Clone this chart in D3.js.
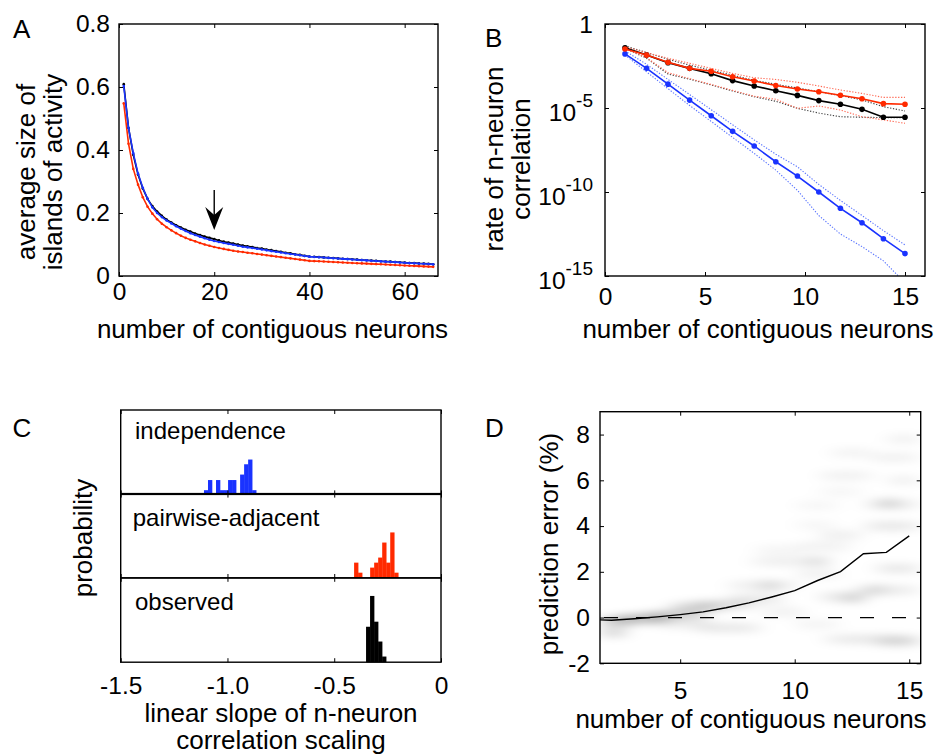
<!DOCTYPE html>
<html><head><meta charset="utf-8">
<script src="https://cdn.jsdelivr.net/npm/d3@7"></script>
<style>
body{margin:0;background:#fff}
svg{display:block;font-family:"Liberation Sans",Arial,Helvetica,sans-serif}
</style></head>
<body><svg id="c" width="940" height="756"></svg>
<script>
// ---------------- DATA ----------------
// Panel A: average size of islands of activity vs number of contiguous neurons
const nA = [1,2,3,4,5,6,7,8,9,10,11,12,13,14,15,16,17,18,19,20,21,22,23,24,25,26,27,28,29,30,31,32,33,34,35,36,37,38,39,40,41,42,43,44,45,46,47,48,49,50,51,52,53,54,55,56,57,58,59,60,61,62,63,64,65,66];
const islandsObserved = [0.609,0.47,0.385,0.322,0.278,0.245,0.222,0.205,0.191,0.179,0.170,0.161,0.154,0.147,0.141,0.135,0.130,0.125,0.121,0.117,0.113,0.109,0.106,0.103,0.100,0.097,0.094,0.092,0.089,0.087,0.084,0.082,0.079,0.077,0.074,0.072,0.069,0.067,0.064,0.062,0.061,0.060,0.059,0.058,0.057,0.056,0.055,0.054,0.053,0.052,0.051,0.050,0.049,0.048,0.047,0.046,0.0455,0.0445,0.0435,0.0425,0.0415,0.041,0.040,0.0395,0.0385,0.0375];
const islandsIndependent = [0.603,0.47,0.39,0.325,0.280,0.245,0.218,0.200,0.187,0.176,0.167,0.158,0.150,0.143,0.136,0.130,0.125,0.120,0.115,0.111,0.108,0.105,0.102,0.099,0.096,0.093,0.091,0.089,0.0865,0.084,0.0815,0.079,0.077,0.0745,0.072,0.070,0.068,0.066,0.0635,0.0615,0.0605,0.0595,0.0585,0.0575,0.0565,0.0555,0.0545,0.0535,0.0525,0.0515,0.0505,0.0495,0.0485,0.0475,0.0465,0.0455,0.045,0.044,0.043,0.042,0.041,0.0405,0.0395,0.039,0.038,0.037];
const islandsPairwise = [0.548,0.42,0.34,0.29,0.250,0.220,0.198,0.180,0.166,0.155,0.145,0.136,0.128,0.121,0.115,0.110,0.105,0.100,0.096,0.092,0.089,0.086,0.083,0.080,0.078,0.076,0.074,0.072,0.070,0.068,0.066,0.064,0.062,0.060,0.058,0.056,0.054,0.052,0.050,0.048,0.0473,0.0466,0.0458,0.0451,0.0444,0.0437,0.0429,0.0422,0.0415,0.0407,0.0400,0.0393,0.0385,0.0378,0.0371,0.0363,0.0356,0.0349,0.0342,0.0334,0.0327,0.032,0.0312,0.0305,0.0298,0.029];
const arrowA = {x: 20, yFrom: 0.273, yTo: 0.146};
const xTicksA = [0,20,40,60];
const yTicksA = [0,0.2,0.4,0.6,0.8];
const yTickLabelsA = ["0","0.2","0.4","0.6","0.8"];

// Panel B: rate of n-neuron correlation (log10 values)
const nB = [1,2.08,3.15,4.23,5.31,6.38,7.46,8.54,9.62,10.69,11.77,12.85,13.92,15];
const logIndependent = [-1.78,-2.64,-3.58,-4.53,-5.46,-6.39,-7.26,-8.2,-9.05,-10.0,-10.97,-11.83,-12.78,-13.67];
const logIndependentHi = [-1.6,-2.4,-3.3,-4.2,-5.1,-6.0,-6.9,-7.75,-8.5,-9.55,-10.5,-11.4,-12.3,-13.15];
const logIndependentLo = [-1.85,-2.85,-3.85,-4.85,-5.8,-6.75,-7.7,-8.7,-9.9,-11.4,-12.5,-13.25,-14.1,-15.4];
const logPairwise = [-1.49,-1.85,-2.28,-2.64,-2.81,-3.14,-3.39,-3.66,-3.87,-4.03,-4.24,-4.45,-4.74,-4.78];
const logPairwiseHi = [-1.35,-1.71,-2.04,-2.34,-2.64,-2.94,-3.2,-3.3,-3.47,-3.69,-3.93,-4.13,-4.37,-4.37];
const logPairwiseLo = [-1.45,-2.0,-2.9,-3.25,-3.6,-3.95,-4.3,-4.48,-5.02,-4.88,-5.12,-5.52,-5.71,-5.91];
const logObserved = [-1.42,-1.85,-2.3,-2.64,-2.96,-3.37,-3.69,-3.97,-4.25,-4.56,-4.78,-5.08,-5.55,-5.55];
const logObservedHi = [-1.3,-1.7,-2.1,-2.45,-2.75,-3.05,-3.35,-3.59,-3.81,-4.03,-4.26,-4.52,-4.92,-5.18];
const logObservedLo = [-1.45,-2.04,-2.98,-3.29,-3.63,-3.99,-4.33,-4.6,-5.02,-5.3,-5.52,-5.55,-5.57,-5.58];
const xTicksB = [0,5,10,15];
const yTickExpB = [0,-5,-10,-15];

// Panel C: histograms of linear slope (relative probability)
const binWidthC = 0.0188;
const histIndepStart = -1.11;
const histIndep = [0.05,0.17,0,0.17,0.05,0.05,0.17,0.17,0,0.235,0.357,0.413,0.05];
const histPairStart = -0.407;
const histPair = [0.182,0.063,0,0,0.123,0.182,0.242,0.42,0.182,0.54,0.063];
const histObsStart = -0.351;
const histObs = [0.42,0.785,0.48,0.245,0.067];
const histLabels = ["independence","pairwise-adjacent","observed"];
const xTicksC = [-1.5,-1.0,-0.5,0];
const xTickLabelsC = ["-1.5","-1.0","-0.5","0"];

// Panel D: prediction error (%)
const nD = [1,2,3,4,5,6,7,8,9,10,11,12,13,14,15];
const predErr = [-0.08,-0.12,-0.05,0.03,0.13,0.25,0.43,0.64,0.9,1.18,1.62,2.01,2.79,2.85,3.57];
// density streaks: [n from, n to, error %, darkness]
const densityStreaks = [
 [1.5,3.0,-0.15,0.55],[2.4,4.6,-0.05,0.6],[3.5,6.2,0.1,0.4],[1.5,2.7,-0.65,0.35],
 [4.5,6.8,0.45,0.35],[5.5,8.2,0.55,0.28],[7.0,9.6,0.8,0.2],[5.6,8.6,-0.45,0.2],
 [4.0,6.5,-0.3,0.15],[7.0,10.3,1.4,0.16],[8.4,9.4,1.4,0.22],[8.0,11.6,2.45,0.14],
 [10.4,11.6,2.45,0.18],[8.2,10.5,2.95,0.09],[10.0,12.5,3.1,0.12],[11.0,13.0,3.6,0.14],
 [10.0,11.8,4.05,0.08],[13.0,15.5,4.0,0.2],[13.0,15.5,4.95,0.18],[13.6,14.6,5.0,0.25],
 [10.0,12.0,4.9,0.08],[11.0,13.0,5.5,0.08],[11.0,13.5,6.2,0.12],[14.0,15.5,6.0,0.12],
 [11.5,13.5,7.2,0.1],[13.2,15.5,7.0,0.12],[14.0,15.5,7.8,0.12],[11.2,15.5,-0.95,0.2],
 [13.5,15.5,-1.05,0.25],[11.0,13.0,0.9,0.2],[12.0,13.2,0.85,0.25],[12.5,15.5,1.2,0.18],
 [13.0,14.0,1.2,0.22],[13.5,15.5,2.15,0.2],[10.0,12.0,1.9,0.12],[8.5,10.5,0.25,0.12],
 [10.0,12.0,-0.3,0.1]
];
const xTicksD = [5,10,15];
const yTicksD = [-2,0,2,4,6,8];

// ---------------- STYLE ----------------
const BLUE = "#1a33ff", RED = "#ff2a00", BLACK = "#000";
const TICK_FS = 24.5, LABEL_FS = 26, LETTER_FS = 26;
const DENSITY_GAIN = 0.55;

const svg = d3.select("#c");
svg.append("rect").attr("width",940).attr("height",756).attr("fill","#fff");
const defs = svg.append("defs");

function styleAxis(g){
  g.select(".domain").remove();
  g.selectAll(".tick line").attr("stroke","#000").attr("stroke-width",1);
  g.selectAll(".tick text").attr("font-size",TICK_FS).attr("fill","#000").attr("font-family",'"Liberation Sans",Arial,sans-serif');
}
function frame(x, y, xt, yt, opts){
  const [x0,x1] = x.range(), [y0,y1] = y.range();
  const g = svg.append("g");
  const bx = d3.axisBottom(x).tickValues(xt).tickSize(-4).tickPadding(opts.xpad);
  bx.tickFormat(opts.xfmt || (d=>String(d)));
  g.append("g").attr("transform",`translate(0,${y0})`).call(bx).call(styleAxis);
  g.append("g").attr("transform",`translate(0,${y1})`).call(d3.axisTop(x).tickValues(xt).tickSize(-4).tickFormat("")).call(styleAxis);
  if (yt){
    const ly = d3.axisLeft(y).tickValues(yt).tickSize(-4).tickPadding(opts.ypad);
    ly.tickFormat(opts.yfmt || (d=>String(d)));
    g.append("g").attr("transform",`translate(${x0},0)`).call(ly).call(styleAxis);
    g.append("g").attr("transform",`translate(${x1},0)`).call(d3.axisRight(y).tickValues(yt).tickSize(-4).tickFormat("")).call(styleAxis);
  }
  g.append("rect").attr("x",x0).attr("y",y1).attr("width",x1-x0).attr("height",y0-y1)
   .attr("fill","none").attr("stroke","#000").attr("stroke-width",1.4);
  return g;
}
function clip(id, x, y){
  const [x0,x1] = x.range(), [y0,y1] = y.range();
  defs.append("clipPath").attr("id",id).append("rect").attr("x",x0).attr("y",y1).attr("width",x1-x0).attr("height",y0-y1);
  return `url(#${id})`;
}
function text(x,y,str,fs,anchor){
  return svg.append("text").attr("x",x).attr("y",y).attr("font-size",fs).attr("text-anchor",anchor||"start").attr("fill","#000").text(str);
}
function vtext(cx,cy,str,fs){
  return svg.append("text").attr("transform",`translate(${cx},${cy}) rotate(-90)`).attr("font-size",fs).attr("text-anchor","middle").attr("fill","#000").text(str);
}

// ---------------- PANEL A ----------------
{
  const x = d3.scaleLinear([0,67],[119,438]);
  const y = d3.scaleLinear([0,0.8],[276,24]);
  const cp = clip("clipA", x, y);
  const g = svg.append("g").attr("clip-path",cp);
  const series = [[islandsPairwise,RED],[islandsObserved,BLACK],[islandsIndependent,BLUE]];
  const line = d3.line().x((d,i)=>x(nA[i])).y(d=>y(d));
  series.forEach(([vals,col])=>{
    g.append("path").datum(vals).attr("d",line).attr("fill","none").attr("stroke",col).attr("stroke-width",1.6);
    g.selectAll(null).data(vals).enter().append("circle").attr("cx",(d,i)=>x(nA[i])).attr("cy",d=>y(d)).attr("r",1.3).attr("fill",col);
  });
  const ax = x(arrowA.x), ya = y(arrowA.yFrom), yb = y(arrowA.yTo);
  svg.append("line").attr("x1",ax).attr("x2",ax).attr("y1",ya).attr("y2",yb-10).attr("stroke","#000").attr("stroke-width",1.4);
  svg.append("path").attr("d",`M${ax},${yb} L${ax-9},${yb-23} L${ax},${yb-15} L${ax+9},${yb-23} Z`).attr("fill","#000");
  frame(x,y,xTicksA,yTicksA,{xpad:7,ypad:9,yfmt:(d,i)=>yTickLabelsA[i]});
  text(272.5,337.5,"number of contiguous neurons",LABEL_FS,"middle");
  vtext(35,172,"average size of",LABEL_FS);
  vtext(61.5,172,"islands of activity",LABEL_FS);
  text(13,38,"A",LETTER_FS);
}

// ---------------- PANEL B ----------------
{
  const x = d3.scaleLinear([0,16],[605,925]);
  const y = d3.scaleLog([1e-15,1],[276,24]);
  const cp = clip("clipB", x, y);
  const g = svg.append("g").attr("clip-path",cp);
  const line = d3.line().x((d,i)=>x(nB[i])).y(d=>y(Math.pow(10,d)));
  const dotted = [[logObservedHi,"#444"],[logObservedLo,"#444"],[logPairwiseHi,"#ff6a55"],[logPairwiseLo,"#ff6a55"],[logIndependentHi,"#5a75ff"],[logIndependentLo,"#5a75ff"]];
  dotted.forEach(([vals,col])=>{
    g.append("path").datum(vals).attr("d",line).attr("fill","none").attr("stroke",col).attr("stroke-width",1.1).attr("stroke-dasharray","1.3,1.6");
  });
  [[logIndependent,BLUE],[logObserved,BLACK],[logPairwise,RED]].forEach(([vals,col])=>{
    g.append("path").datum(vals).attr("d",line).attr("fill","none").attr("stroke",col).attr("stroke-width",1.6);
    g.selectAll(null).data(vals).enter().append("circle").attr("cx",(d,i)=>x(nB[i])).attr("cy",d=>y(Math.pow(10,d))).attr("r",2.8).attr("fill",col);
  });
  const yt = yTickExpB.map(e=>Math.pow(10,e));
  frame(x,y,xTicksB,yt,{xpad:12,ypad:12,yfmt:()=>""});
  yTickExpB.forEach(e=>{
    const ty = y(Math.pow(10,e));
    if (e===0){
      text(593,ty,"1",TICK_FS,"end").attr("dy","0.35em");
    } else {
      const t = svg.append("text").attr("x",593).attr("y",ty+13).attr("font-size",TICK_FS).attr("text-anchor","end");
      t.append("tspan").text("10");
      t.append("tspan").attr("dy",-14).attr("font-size",19).text(String(e));
    }
  });
  text(758,337.5,"number of contiguous neurons",LABEL_FS,"middle");
  vtext(503,159,"rate of n-neuron",LABEL_FS);
  vtext(530,159,"correlation",LABEL_FS);
  text(485,46.5,"B",LETTER_FS);
}

// ---------------- PANEL C ----------------
{
  const x = d3.scaleLinear([-1.5,0],[120.7,441]);
  const tops = [410,493.6,577.8], h = 84.4;
  const labelY = [439.3,526,610];
  const hists = [[histIndep,histIndepStart,BLUE],[histPair,histPairStart,RED],[histObs,histObsStart,BLACK]];
  hists.forEach(([vals,start,col],k)=>{
    const y = d3.scaleLinear([0,1],[tops[k]+h,tops[k]]);
    const g = svg.append("g");
    g.selectAll("rect").data(vals).enter().append("rect")
      .attr("x",(d,i)=>x(start+i*binWidthC)).attr("width",(d,i)=>x(start+(i+1)*binWidthC)-x(start+i*binWidthC)+0.3)
      .attr("y",d=>y(d)).attr("height",d=>y(0)-y(d)).attr("fill",col);
    const last = k===hists.length-1;
    frame(x,y,xTicksC,null,{xpad:14,xfmt:(d,i)=>last?xTickLabelsC[i]:""});
    text(k===1?132.7:135,labelY[k],histLabels[k],24);
  });
  vtext(92,538,"probability",LABEL_FS);
  text(281,722,"linear slope of n-neuron",LABEL_FS,"middle");
  text(281,748.5,"correlation scaling",LABEL_FS,"middle");
  text(12.5,437,"C",LETTER_FS);
}

// ---------------- PANEL D ----------------
{
  const x = d3.scaleLinear([1.5,15.5],[600,920.7]);
  const y = d3.scaleLinear([-2,9],[663.3,411.7]);
  const cp = clip("clipD", x, y);
  const f = defs.append("filter").attr("id","blurD").attr("x","-50%").attr("y","-300%").attr("width","200%").attr("height","700%");
  f.append("feGaussianBlur").attr("stdDeviation","9 4");
  const g = svg.append("g").attr("clip-path",cp);
  const gb = g.append("g").attr("filter","url(#blurD)");
  gb.selectAll("ellipse").data(densityStreaks).enter().append("ellipse")
    .attr("cx",d=>(x(d[0])+x(d[1]))/2).attr("cy",d=>y(d[2]))
    .attr("rx",d=>(x(d[1])-x(d[0]))/2).attr("ry",4)
    .attr("fill","#000").attr("fill-opacity",d=>d[3]*DENSITY_GAIN);
  g.append("line").attr("x1",x.range()[0]).attr("x2",x.range()[1]).attr("y1",y(0)).attr("y2",y(0))
    .attr("stroke","#000").attr("stroke-width",1.2).attr("stroke-dasharray","14,18").attr("stroke-dashoffset",-4);
  g.append("path").datum(predErr).attr("d",d3.line().x((d,i)=>x(nD[i])).y(d=>y(d)))
    .attr("fill","none").attr("stroke","#000").attr("stroke-width",1.4);
  frame(x,y,xTicksD,yTicksD,{xpad:18,ypad:10});
  text(751,727.5,"number of contiguous neurons",LABEL_FS,"middle");
  vtext(558,544,"prediction error (%)",LABEL_FS);
  text(485,436.7,"D",LETTER_FS);
}
</script></body></html>
